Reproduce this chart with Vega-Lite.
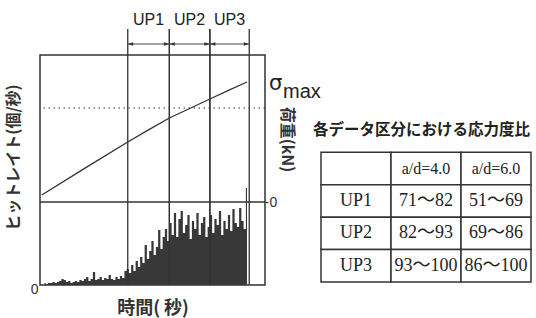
{
  "$schema": "https://vega.github.io/schema/vega-lite/v6.json",
  "background": "white",
  "padding": {"left": 4, "top": 11, "right": 0, "bottom": 5},
  "config": {
    "view": {"stroke": "#333", "strokeWidth": 1.5},
    "font": "Liberation Sans",
    "axis": {"grid": false}
  },
  "datasets": {
    "hits": [
      {"t": 2, "rate": 2}, {"t": 3, "rate": 1}, {"t": 4, "rate": 2}, {"t": 5, "rate": 2}, {"t": 6, "rate": 3},
      {"t": 7, "rate": 2}, {"t": 8, "rate": 3}, {"t": 9, "rate": 4}, {"t": 10, "rate": 6}, {"t": 11, "rate": 5},
      {"t": 12, "rate": 3}, {"t": 13, "rate": 4}, {"t": 14, "rate": 2}, {"t": 15, "rate": 3}, {"t": 16, "rate": 4},
      {"t": 17, "rate": 3}, {"t": 18, "rate": 5}, {"t": 19, "rate": 4}, {"t": 20, "rate": 6}, {"t": 21, "rate": 8},
      {"t": 22, "rate": 4}, {"t": 23, "rate": 6}, {"t": 24, "rate": 13}, {"t": 25, "rate": 5}, {"t": 26, "rate": 6},
      {"t": 27, "rate": 8}, {"t": 28, "rate": 5}, {"t": 29, "rate": 7}, {"t": 30, "rate": 6}, {"t": 31, "rate": 10},
      {"t": 32, "rate": 6}, {"t": 33, "rate": 5}, {"t": 34, "rate": 8}, {"t": 35, "rate": 6}, {"t": 36, "rate": 9},
      {"t": 37, "rate": 7}, {"t": 38, "rate": 14}, {"t": 39, "rate": 16}, {"t": 40, "rate": 12}, {"t": 41, "rate": 20},
      {"t": 42, "rate": 14}, {"t": 43, "rate": 24}, {"t": 44, "rate": 18}, {"t": 45, "rate": 28}, {"t": 46, "rate": 22},
      {"t": 47, "rate": 40}, {"t": 48, "rate": 26}, {"t": 49, "rate": 34}, {"t": 50, "rate": 44}, {"t": 51, "rate": 30},
      {"t": 52, "rate": 38}, {"t": 53, "rate": 55}, {"t": 54, "rate": 36}, {"t": 55, "rate": 48}, {"t": 56, "rate": 56},
      {"t": 57, "rate": 44}, {"t": 58, "rate": 62}, {"t": 59, "rate": 50}, {"t": 60, "rate": 72}, {"t": 61, "rate": 48},
      {"t": 62, "rate": 66}, {"t": 63, "rate": 74}, {"t": 64, "rate": 52}, {"t": 65, "rate": 60}, {"t": 66, "rate": 70},
      {"t": 67, "rate": 46}, {"t": 68, "rate": 64}, {"t": 69, "rate": 56}, {"t": 70, "rate": 72}, {"t": 71, "rate": 50},
      {"t": 72, "rate": 62}, {"t": 73, "rate": 68}, {"t": 74, "rate": 48}, {"t": 75, "rate": 58}, {"t": 76, "rate": 70},
      {"t": 77, "rate": 52}, {"t": 78, "rate": 66}, {"t": 79, "rate": 60}, {"t": 80, "rate": 74}, {"t": 81, "rate": 50},
      {"t": 82, "rate": 64}, {"t": 83, "rate": 56}, {"t": 84, "rate": 70}, {"t": 85, "rate": 54}, {"t": 86, "rate": 76},
      {"t": 87, "rate": 62}, {"t": 88, "rate": 58}, {"t": 89, "rate": 77}, {"t": 90, "rate": 64}, {"t": 91, "rate": 56},
      {"t": 92, "rate": 97}
    ],
    "load": [
      {"t": 0.8, "load": 7.4}, {"t": 20, "load": 36}, {"t": 39, "load": 63.8}, {"t": 48, "load": 76.5},
      {"t": 57.5, "load": 89.4}, {"t": 67, "load": 100}, {"t": 75.5, "load": 109.6}, {"t": 84, "load": 119}, {"t": 92, "load": 127.7}
    ],
    "phases": [
      {"phase": "UP1", "start": 39, "end": 57.5, "mid": 48.25},
      {"phase": "UP2", "start": 57.5, "end": 75.5, "mid": 66.5},
      {"phase": "UP3", "start": 75.5, "end": 93, "mid": 84.25}
    ],
    "cells": [
      {"row": "項目", "col": "区分", "value": ""},
      {"row": "項目", "col": "a/d=4.0", "value": "a/d=4.0"},
      {"row": "項目", "col": "a/d=6.0", "value": "a/d=6.0"},
      {"row": "UP1", "col": "区分", "value": "UP1"},
      {"row": "UP1", "col": "a/d=4.0", "value": "71～82"},
      {"row": "UP1", "col": "a/d=6.0", "value": "51～69"},
      {"row": "UP2", "col": "区分", "value": "UP2"},
      {"row": "UP2", "col": "a/d=4.0", "value": "82～93"},
      {"row": "UP2", "col": "a/d=6.0", "value": "69～86"},
      {"row": "UP3", "col": "区分", "value": "UP3"},
      {"row": "UP3", "col": "a/d=4.0", "value": "93～100"},
      {"row": "UP3", "col": "a/d=6.0", "value": "86～100"}
    ]
  },
  "bounds": "flush",
  "spacing": 56,
  "hconcat": [
    {
      "width": 225,
      "height": 230,
      "resolve": {"scale": {"y": "independent"}},
      "layer": [
        {
          "data": {"name": "hits"},
          "mark": {"type": "area", "interpolate": "step", "color": "#383838", "opacity": 1},
          "encoding": {
            "x": {"field": "t", "type": "quantitative", "title": "時間( 秒)",
              "scale": {"domain": [0, 100], "nice": false, "zero": false},
              "axis": {"labels": false, "ticks": false, "domain": false, "titleFont": "Noto Sans CJK JP", "titleFontSize": 18, "titleFontWeight": "bold", "titleColor": "#333", "titlePadding": 14}},
            "y": {"field": "rate", "type": "quantitative", "title": "ヒットレイト(個/秒)",
              "scale": {"domain": [0, 230], "nice": false},
              "axis": {"orient": "left", "values": [0], "domain": false, "ticks": false, "labelPadding": 2, "labelFontSize": 14, "labelColor": "#333", "labelOffset": 4, "titleFont": "Noto Sans CJK JP", "titleFontSize": 16, "titleFontWeight": "bold", "titleColor": "#333", "titlePadding": 9, "titleY": 102}}
          }
        },
        {
          "layer": [
            {
              "data": {"values": [{"load": 0}]},
              "mark": {"type": "rule", "color": "#333", "strokeWidth": 1.3},
              "encoding": {
                "y": {"field": "load", "type": "quantitative", "scale": {"domain": [-88.3, 156.4], "nice": false, "zero": false}}
              }
            },
            {
              "data": {"values": [{"load": 100}]},
              "mark": {"type": "rule", "color": "#333", "strokeWidth": 1.2, "strokeDash": [1.5, 3.5]},
              "encoding": {
                "y": {"field": "load", "type": "quantitative", "scale": {"domain": [-88.3, 156.4], "nice": false, "zero": false}}
              }
            },
            {
              "data": {"name": "load"},
              "mark": {"type": "line", "color": "#333", "strokeWidth": 1.3},
              "encoding": {
                "x": {"field": "t", "type": "quantitative", "title": "時間( 秒)", "scale": {"domain": [0, 100], "nice": false, "zero": false}},
                "y": {"field": "load", "type": "quantitative", "title": "荷重(kN)",
                  "scale": {"domain": [-88.3, 156.4], "nice": false, "zero": false},
                  "axis": {"orient": "right", "values": [0], "domain": false, "ticks": true, "tickSize": 3, "tickColor": "#333", "tickWidth": 1.3, "labelPadding": 1, "labelFontSize": 14, "labelColor": "#333", "titleFont": "Noto Sans CJK JP", "titleFontSize": 16, "titleFontWeight": "bold", "titleColor": "#333", "titlePadding": 2, "titleY": 84}}
              }
            },
            {
              "data": {"name": "phases"},
              "mark": {"type": "rule", "color": "#333", "strokeWidth": 1.3},
              "encoding": {
                "x": {"field": "start", "type": "quantitative", "title": "時間( 秒)", "scale": {"domain": [0, 100], "nice": false, "zero": false}},
                "y": {"datum": 184, "type": "quantitative", "scale": {"domain": [-88.3, 156.4], "nice": false, "zero": false}},
                "y2": {"datum": -88.3}
              }
            },
            {
              "data": {"name": "phases"},
              "mark": {"type": "rule", "color": "#333", "strokeWidth": 1.3},
              "encoding": {
                "x": {"field": "end", "type": "quantitative", "title": "時間( 秒)", "scale": {"domain": [0, 100], "nice": false, "zero": false}},
                "y": {"datum": 184, "type": "quantitative", "scale": {"domain": [-88.3, 156.4], "nice": false, "zero": false}},
                "y2": {"datum": -88.3}
              }
            },
            {
              "data": {"name": "phases"},
              "mark": {"type": "rule", "color": "#444", "strokeWidth": 1},
              "encoding": {
                "x": {"field": "start", "type": "quantitative", "title": "時間( 秒)", "scale": {"domain": [0, 100], "nice": false, "zero": false}},
                "x2": {"field": "end"},
                "y": {"datum": 168.1, "type": "quantitative", "scale": {"domain": [-88.3, 156.4], "nice": false, "zero": false}}
              }
            },
            {
              "data": {"name": "phases"},
              "mark": {"type": "point", "filled": true, "color": "#333", "opacity": 1, "size": 30, "shape": "M0,0L2,-0.6L2,0.6Z"},
              "encoding": {
                "x": {"field": "start", "type": "quantitative", "title": "時間( 秒)", "scale": {"domain": [0, 100], "nice": false, "zero": false}},
                "y": {"datum": 168.1, "type": "quantitative", "scale": {"domain": [-88.3, 156.4], "nice": false, "zero": false}}
              }
            },
            {
              "data": {"name": "phases"},
              "mark": {"type": "point", "filled": true, "color": "#333", "opacity": 1, "size": 30, "shape": "M0,0L-2,-0.6L-2,0.6Z"},
              "encoding": {
                "x": {"field": "end", "type": "quantitative", "title": "時間( 秒)", "scale": {"domain": [0, 100], "nice": false, "zero": false}},
                "y": {"datum": 168.1, "type": "quantitative", "scale": {"domain": [-88.3, 156.4], "nice": false, "zero": false}}
              }
            },
            {
              "data": {"name": "phases"},
              "mark": {"type": "text", "font": "Liberation Sans", "fontSize": 16, "color": "#222", "baseline": "middle", "align": "center"},
              "encoding": {
                "x": {"field": "mid", "type": "quantitative", "title": "時間( 秒)", "scale": {"domain": [0, 100], "nice": false, "zero": false}},
                "y": {"datum": 193.6, "type": "quantitative", "scale": {"domain": [-88.3, 156.4], "nice": false, "zero": false}},
                "text": {"field": "phase"}
              }
            },
            {
              "data": {"values": [{"load": 100, "symbol": "σ", "sub": "max"}]},
              "mark": {"type": "text", "font": "DejaVu Sans", "fontSize": 21, "color": "#222", "baseline": "alphabetic", "align": "left", "dx": 4, "dy": -18},
              "encoding": {
                "x": {"datum": 100, "type": "quantitative", "scale": {"domain": [0, 100], "nice": false, "zero": false}},
                "y": {"field": "load", "type": "quantitative", "scale": {"domain": [-88.3, 156.4], "nice": false, "zero": false}},
                "text": {"field": "symbol"}
              }
            },
            {
              "data": {"values": [{"load": 100, "symbol": "σ", "sub": "max"}]},
              "mark": {"type": "text", "font": "Liberation Sans", "fontSize": 20, "color": "#222", "baseline": "alphabetic", "align": "left", "dx": 18, "dy": -10},
              "encoding": {
                "x": {"datum": 100, "type": "quantitative", "scale": {"domain": [0, 100], "nice": false, "zero": false}},
                "y": {"field": "load", "type": "quantitative", "scale": {"domain": [-88.3, 156.4], "nice": false, "zero": false}},
                "text": {"field": "sub"}
              }
            }
          ]
        }
      ]
    },
    {
      "width": 210,
      "height": 227,
      "view": {"stroke": null},
      "layer": [
        {
          "data": {"name": "cells"},
          "mark": {"type": "rect", "fill": "white", "stroke": "#333", "strokeWidth": 1.5},
          "encoding": {
            "x": {"field": "col", "type": "nominal", "scale": {"domain": ["区分", "a/d=4.0", "a/d=6.0"], "paddingInner": 0, "paddingOuter": 0}, "axis": null},
            "y": {"field": "row", "type": "nominal", "scale": {"domain": ["表題", "項目", "UP1", "UP2", "UP3"], "paddingInner": 0, "paddingOuter": 1.191, "align": 1}, "axis": null}
          }
        },
        {
          "data": {"name": "cells"},
          "transform": [{"filter": "datum.row === '項目'"}],
          "mark": {"type": "text", "font": "Liberation Serif, Noto Sans CJK JP", "fontSize": 16, "color": "#222", "baseline": "middle", "align": "center"},
          "encoding": {
            "x": {"field": "col", "type": "nominal"},
            "y": {"field": "row", "type": "nominal"},
            "text": {"field": "value"}
          }
        },
        {
          "data": {"name": "cells"},
          "transform": [{"filter": "datum.row !== '項目'"}],
          "mark": {"type": "text", "font": "Liberation Serif, Noto Sans CJK JP", "fontSize": 18, "color": "#222", "baseline": "middle", "align": "center"},
          "encoding": {
            "x": {"field": "col", "type": "nominal"},
            "y": {"field": "row", "type": "nominal"},
            "text": {"field": "value"}
          }
        },
        {
          "data": {"values": [{"caption": "各データ区分における応力度比"}]},
          "mark": {"type": "text", "font": "Noto Sans CJK JP", "fontSize": 15.5, "fontWeight": "bold", "color": "#222", "baseline": "middle", "align": "left", "dx": -8, "dy": -6},
          "encoding": {
            "x": {"datum": "区分", "type": "nominal", "bandPosition": 0},
            "y": {"datum": "表題", "type": "nominal"},
            "text": {"field": "caption"}
          }
        }
      ]
    }
  ]
}
